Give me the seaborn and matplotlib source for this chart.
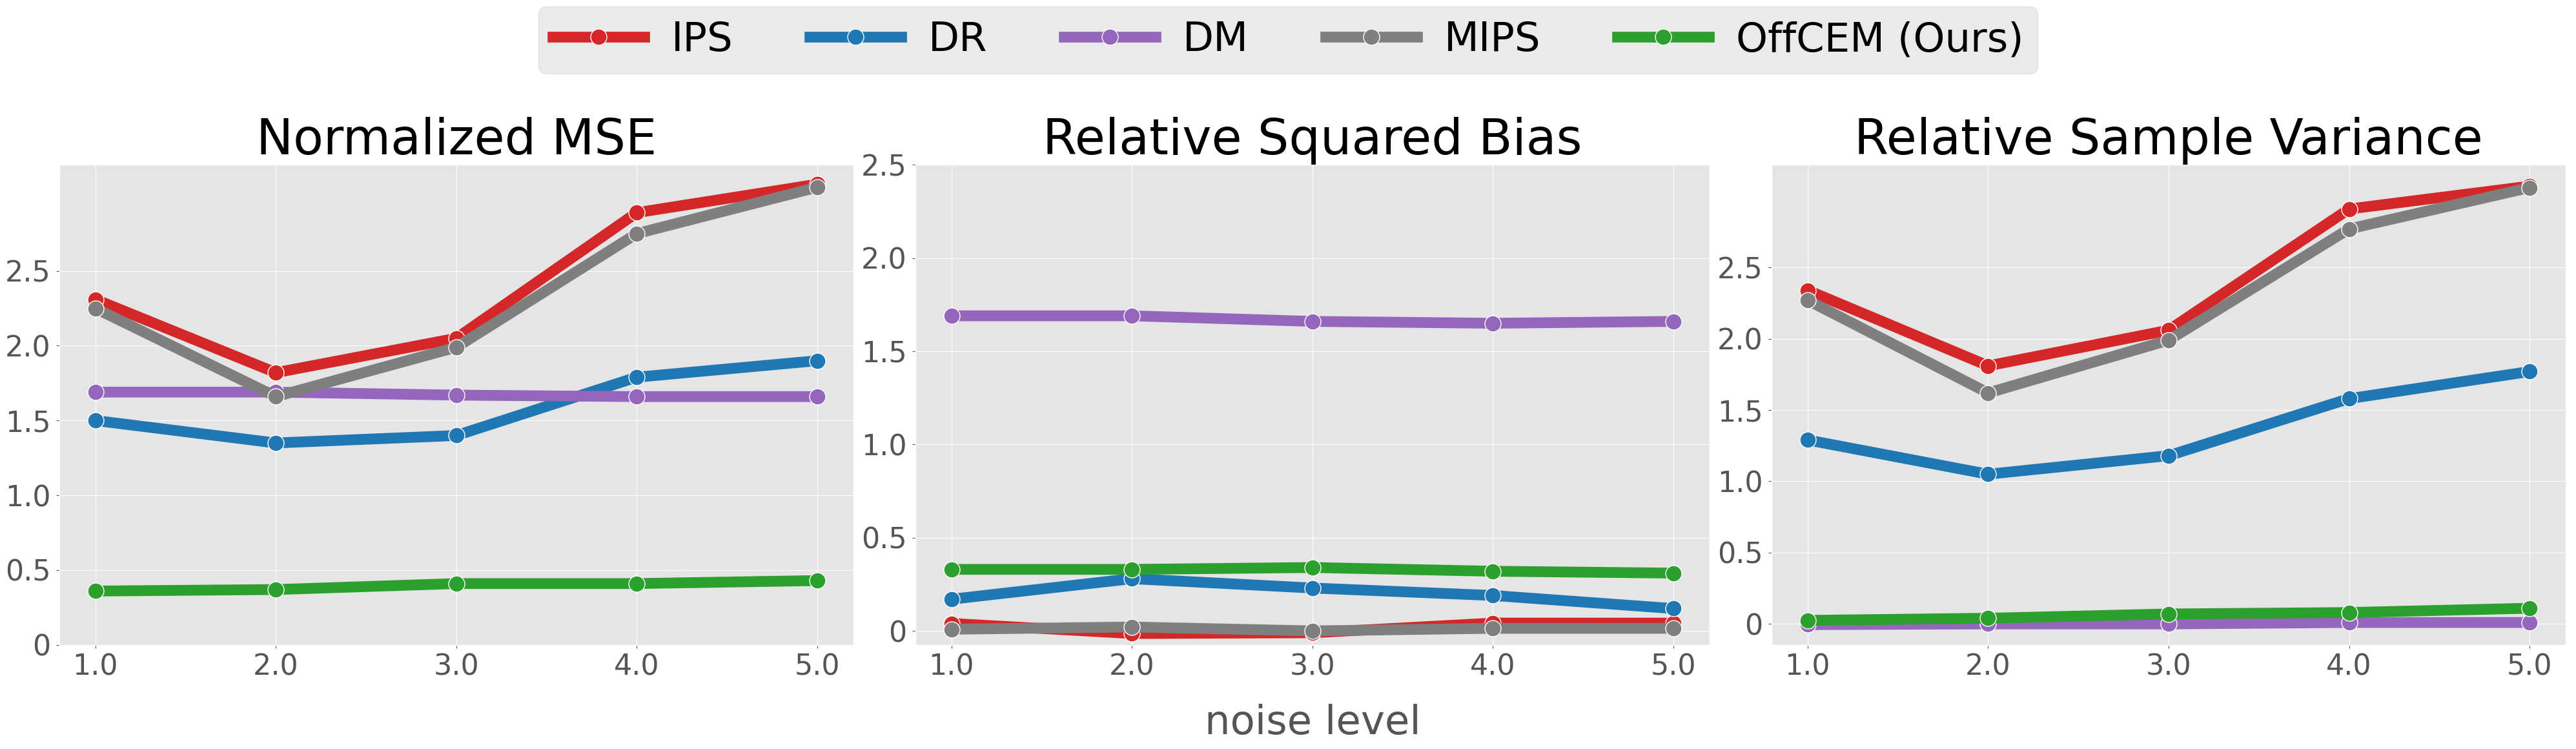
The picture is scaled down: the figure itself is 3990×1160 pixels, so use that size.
import numpy as np
import pandas as pd
import matplotlib
matplotlib.use('Agg')
import matplotlib.pyplot as plt
import seaborn as sns

plt.style.use('ggplot')

noise = [1.0, 2.0, 3.0, 4.0, 5.0]
estimators = ['IPS', 'DR', 'DM', 'MIPS', 'OffCEM (Ours)']
colors = ['tab:red', 'tab:blue', 'tab:purple', 'tab:gray', 'tab:green']

# normalized MSE
mse_ips = [2.31, 1.82, 2.05, 2.89, 3.08]
mse_dr = [1.50, 1.35, 1.40, 1.79, 1.90]
mse_dm = [1.69, 1.69, 1.67, 1.66, 1.66]
mse_mips = [2.25, 1.66, 1.99, 2.75, 3.06]
mse_offcem = [0.36, 0.37, 0.41, 0.41, 0.43]

# relative squared bias
bias_ips = [0.040, -0.014, -0.010, 0.042, 0.042]
bias_dr = [0.17, 0.28, 0.23, 0.19, 0.12]
bias_dm = [1.69, 1.69, 1.66, 1.65, 1.66]
bias_mips = [0.009, 0.021, 0.0, 0.014, 0.014]
bias_offcem = [0.33, 0.33, 0.34, 0.32, 0.31]

# relative sample variance
var_ips = [2.34, 1.81, 2.06, 2.91, 3.07]
var_dr = [1.29, 1.05, 1.18, 1.58, 1.77]
var_dm = [-0.005, 0.0, 0.0, 0.01, 0.01]
var_mips = [2.27, 1.62, 1.99, 2.77, 3.06]
var_offcem = [0.025, 0.04, 0.07, 0.08, 0.11]

titles = ['Normalized MSE', 'Relative Squared Bias', 'Relative Sample Variance']
panels = [
    [mse_ips, mse_dr, mse_dm, mse_mips, mse_offcem],
    [bias_ips, bias_dr, bias_dm, bias_mips, bias_offcem],
    [var_ips, var_dr, var_dm, var_mips, var_offcem],
]
ylims = [(0, 3.21), (-0.075, 2.5), (-0.147, 3.22)]
yticks = [0, 0.5, 1.0, 1.5, 2.0, 2.5]
ytick_labels = ['0', '0.5', '1.0', '1.5', '2.0', '2.5']

fig, axes = plt.subplots(1, 3, figsize=(39.9, 11.6), dpi=100)
fig.subplots_adjust(left=0.023, right=0.996, bottom=0.139, top=0.780, wspace=0.078)

for ax, title, series, ylim in zip(axes, titles, panels, ylims):
    rows = []
    for name, vals in zip(estimators, series):
        for x, v in zip(noise, vals):
            rows.append({'noise': x, 'value': v, 'estimator': name})
    df = pd.DataFrame(rows)
    sns.lineplot(data=df, x='noise', y='value', hue='estimator',
                 hue_order=estimators, palette=colors, ax=ax,
                 marker='o', markersize=18, linewidth=12,
                 markeredgecolor='white', markeredgewidth=1.0)
    ax.set_title(title, fontsize=55, pad=12)
    ax.set_xticks(noise)
    ax.set_xticklabels(['%.1f' % x for x in noise])
    ax.set_yticks(yticks)
    ax.set_yticklabels(ytick_labels)
    ax.set_ylim(*ylim)
    ax.set_xlim(0.8, 5.2)
    ax.tick_params(axis='both', labelsize=32, pad=6)
    ax.set_xlabel('')
    ax.set_ylabel('')

axes[1].set_xlabel('noise level', fontsize=45, labelpad=25)

handles, labels = axes[0].get_legend_handles_labels()
for ax in axes:
    ax.get_legend().remove()
fig.legend(handles, labels, ncol=5, loc='upper center',
           bbox_to_anchor=(0.5, 0.991), borderaxespad=0,
           fontsize=45, handlelength=2.27, handletextpad=0.67,
           columnspacing=1.9, borderpad=0.35)

plt.savefig('out.png', dpi=100)
